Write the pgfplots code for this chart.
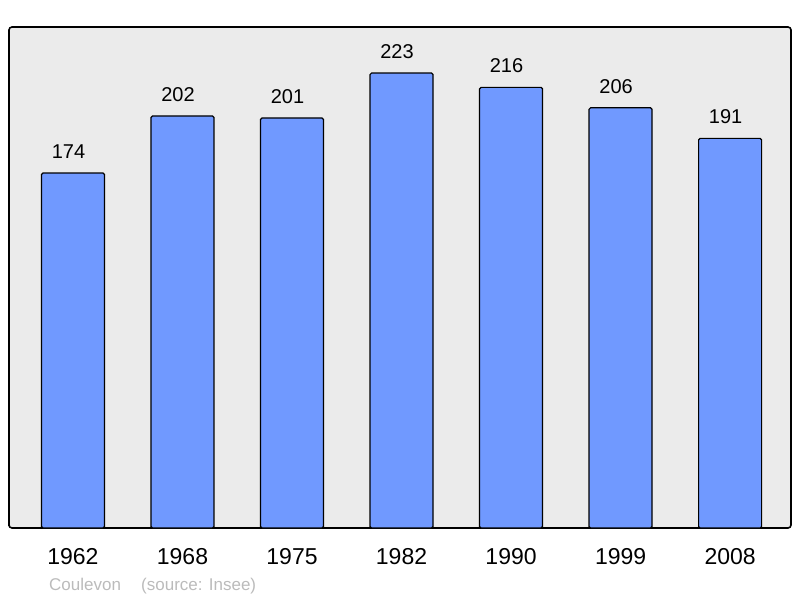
\documentclass[border=0pt]{standalone}
\usepackage{fontspec}
\setmainfont{Liberation Sans}
\usepackage{pgfplots}
\pgfplotsset{compat=1.18}
\definecolor{barblue}{RGB}{112,153,255}
\definecolor{panel}{RGB}{235,235,235}
\definecolor{foot}{RGB}{187,187,187}

\begin{document}
\begin{tikzpicture}
\useasboundingbox (0pt,0pt) rectangle (800pt,598pt);
\begin{axis}[
    at={(9pt,70pt)}, anchor=south west,
    scale only axis,
    width=782pt, height=501pt,
    xmin=-0.584, xmax=6.556,
    ymin=0, ymax=245.6,
    axis background/.style={fill=panel},
    axis line style={line width=1.6pt, rounded corners=3pt},
    ytick=\empty,
    xtick={0,1,2,3,4,5,6},
    xticklabels={1962,1968,1975,1982,1990,1999,2008},
    major tick length=0pt,
    xticklabel style={font=\fontsize{23}{25}\selectfont, yshift=-17pt},
    /pgf/number format/assume math mode=true,
    ybar, bar width=63pt,
    nodes near coords,
    nodes near coords style={font=\fontsize{20}{22}\selectfont, yshift=10.5pt, xshift=-4.5pt},
]
\addplot[fill=barblue, draw=black, line width=1.2pt, rounded corners=1.5pt]
    coordinates {(0,174) (1,202) (2,201) (3,223) (4,216) (5,206) (6,191)};
\end{axis}
\node[anchor=base west, text=foot, font=\fontsize{17}{19}\selectfont, inner sep=0pt] at (49pt,8pt) {Coulevon};
\node[anchor=base west, text=foot, font=\fontsize{17}{19}\selectfont, inner sep=0pt] at (141pt,8pt) {(source: Insee)};
\end{tikzpicture}
\end{document}
